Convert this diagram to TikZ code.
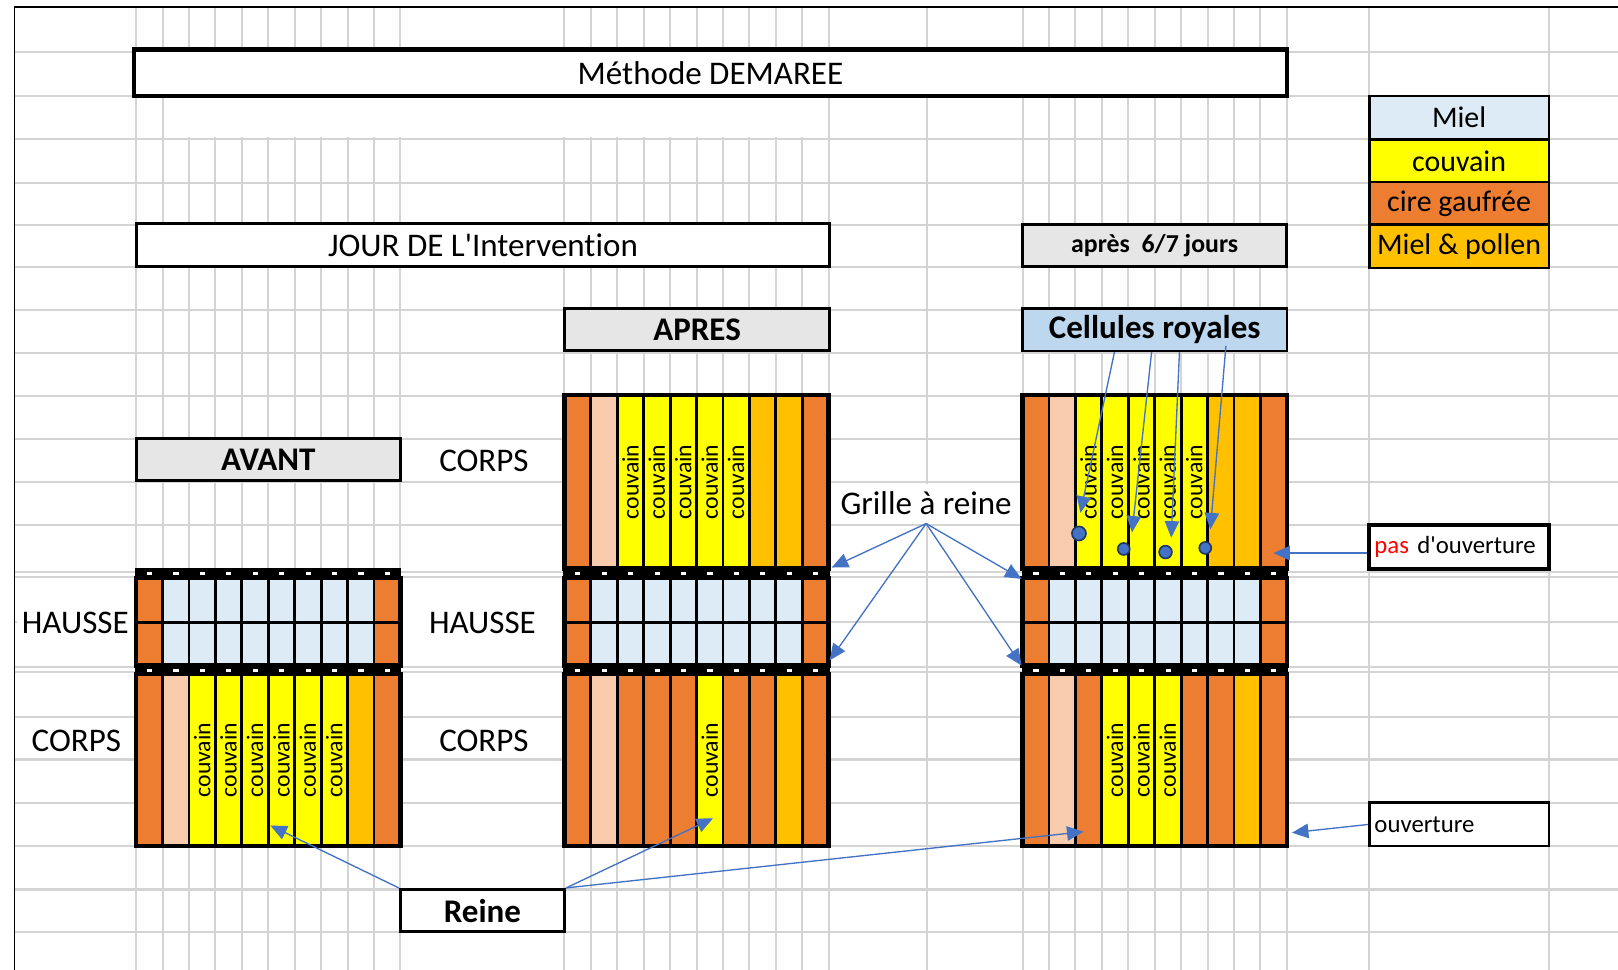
\documentclass[tikz,border=0pt]{standalone}
\usepackage{fontspec}
\setmainfont{Carlito}[Ligatures={NoCommon}]
\usetikzlibrary{arrows.meta}

\definecolor{cire}{HTML}{ED7D31}
\definecolor{peche}{HTML}{F8CBAD}
\definecolor{couv}{HTML}{FFFF00}
\definecolor{pollen}{HTML}{FFC000}
\definecolor{miel}{HTML}{DDEBF7}
\definecolor{gristitre}{HTML}{E7E6E6}
\definecolor{royal}{HTML}{BDD7EE}
\definecolor{bleu}{HTML}{4472C4}
\definecolor{marine}{HTML}{203864}
\definecolor{quad}{HTML}{D4D4D4}

\tikzset{
  quadrillage/.style={draw=quad, line width=1pt},
  ruche/.style={draw=black, line width=2.2pt},
  cadre/.style={draw=black, line width=1.4pt},
  fleche/.style={draw=bleu, line width=0.65pt, -{Triangle[length=8pt,width=7pt]}},
  txt/.style={font=\fontsize{16}{19}\selectfont},
  gras/.style={font=\bfseries\fontsize{16}{19}\selectfont},
  boite/.style={draw, line width=1.5pt, fill=white, inner sep=0pt, minimum height=20.5pt},
  legende/.style={draw, line width=1.2pt, inner sep=0pt, minimum width=87pt, minimum height=21pt, font=\fontsize{14.5}{17}\selectfont},
  vide/.style={fill=white, inner sep=0pt},
  couvain/.style={rotate=90, inner sep=0pt, font=\fontsize{11.5}{13}\selectfont}
}

\begin{document}
\begin{tikzpicture}[x=0.5pt, y=-0.5pt]
\useasboundingbox (0,0) rectangle (1568,940);

% quadrillage
\foreach \y in {50,93,135,177,218,259,300,342,384,425,467,509,554,559,603,646,651,695,736,778,820,862,903}
  \draw[quadrillage] (14,\y) -- (1568,\y);
\foreach \x in {132,157.6,183.2,208.8,234.4,260,285.6,311.2,336.8,362.4,388,
                547,572.6,598.2,623.8,649.4,675,700.6,726.2,751.8,777.4,803,898,
                991,1016.6,1042.2,1067.8,1093.4,1119,1144.6,1170.2,1195.8,1221.4,1247,1327,1501}
  \draw[quadrillage] (\x,7) -- (\x,940);
\fill[white] (159,95) rectangle (801.5,133);
\draw[line width=0.9pt] (14,940) -- (14,7) -- (1568,7);

% titres
\node[boite, line width=2pt, minimum width=558.5pt, minimum height=22.5pt, txt] (methode) at (688.5,70.5) {Méthode DEMAREE};
\node[boite, minimum width=336pt, txt] (jour) at (468,237.5) {JOUR DE L\textquotesingle Intervention};
\node[boite, fill=gristitre, minimum width=128pt, font=\bfseries\fontsize{12.5}{15}\selectfont] (apres67) at (1119,238) {après\ \ 6/7 jours};
\node[boite, fill=gristitre, minimum width=128.5pt, gras] (apres) at (675.5,319.5) {APRES};
\node[boite, fill=royal, line width=1.2pt, minimum width=128pt, font=\bfseries\fontsize{16}{19}\selectfont] (cellules) at (1119,319.5) {Cellules royales};
\node[boite, fill=gristitre, minimum width=128pt, gras] (avant) at (260,445.5) {AVANT};
\node[boite, minimum width=79.5pt, gras] (reine) at (467.5,882.5) {Reine};

% legende
\node[legende, fill=miel] (lmiel) at (1414,114) {Miel};
\node[legende, fill=couv] (lcouv) at (1414,156) {couvain};
\node[legende, fill=cire] (lcire) at (1414,197.5) {cire gaufrée};
\node[legende, fill=pollen] (lpollen) at (1414,238.5) {Miel \& pollen};

\node[boite, line width=2pt, minimum width=87pt, minimum height=21pt, text width=82pt, align=left, font=\fontsize{12}{14}\selectfont] (pasouv) at (1414,530) {\textcolor{red}{pas} d\textquotesingle ouverture};
\node[boite, line width=1.3pt, minimum width=87pt, minimum height=21pt, text width=82pt, align=left, font=\fontsize{12}{14}\selectfont] (ouv) at (1414,799) {ouverture};

% etiquettes
\node[vide, txt, minimum width=57pt, minimum height=41.5pt] (hg) at (73,603.5) {HAUSSE};
\node[vide, txt, minimum width=77.5pt, minimum height=41.5pt] (hm) at (467.5,603.5) {HAUSSE};
\node[txt] (cg) at (74,718) {CORPS};
\node[txt] (cm) at (469,447) {CORPS};
\node[txt] (cb) at (469,718) {CORPS};
\node[vide, minimum width=91.5pt, minimum height=19pt, font=\fontsize{16}{19}\selectfont] (grille) at (897.5,488) {Grille à reine};

% hausses
\foreach \xo in {132,547,991}{
  \fill[miel] (\xo,560) rectangle ++(256,85);
  \fill[cire] (\xo,560) rectangle ++(25.6,85);
  \fill[cire] (\xo+230.4,560) rectangle ++(25.6,85);
  \draw[cadre] (\xo,603) -- ++(256,0);
}
% corps
\foreach \c [count=\i from 0] in {cire,peche,couv,couv,couv,couv,couv,couv,pollen,cire}
  \fill[\c] (132+25.6*\i,653) rectangle ++(25.6,167);
\foreach \c [count=\i from 0] in {cire,peche,couv,couv,couv,couv,couv,pollen,pollen,cire}{
  \fill[\c] (547+25.6*\i,383) rectangle ++(25.6,168);
  \fill[\c] (991+25.6*\i,383) rectangle ++(25.6,168);
}
\foreach \c [count=\i from 0] in {cire,peche,cire,cire,cire,couv,cire,cire,pollen,cire}
  \fill[\c] (547+25.6*\i,653) rectangle ++(25.6,167);
\foreach \c [count=\i from 0] in {cire,peche,cire,couv,couv,couv,cire,cire,pollen,cire}
  \fill[\c] (991+25.6*\i,653) rectangle ++(25.6,167);

% cadres
\foreach \xo/\yo/\h in {132/560/85,132/653/167,547/383/168,547/560/85,547/653/167,991/383/168,991/560/85,991/653/167}{
  \foreach \i in {1,...,9}
    \draw[cadre] (\xo+25.6*\i,\yo) -- ++(0,\h);
  \draw[ruche] (\xo,\yo) rectangle ++(256,\h);
}
% grilles a reine
\foreach \xo in {132,547,991}
  \foreach \yo in {551,645}{
    \fill (\xo-1,\yo-1) rectangle ++(258,11);
    \foreach \i in {0,...,9}
      \fill[white] (\xo+25.6*\i+10.5,\yo+3) rectangle ++(5,3);
  }

\foreach \i in {2,...,7} \node[couvain] (cav\i) at (144.8+25.6*\i,736.5) {couvain};
\foreach \i in {2,...,6} \node[couvain] (cah\i) at (559.8+25.6*\i,467) {couvain};
\node[couvain] (cab5) at (687.8,736.5) {couvain};
\foreach \i in {2,...,6} \node[couvain] (cdh\i) at (1003.8+25.6*\i,467) {couvain};
\foreach \i in {3,...,5} \node[couvain] (cdb\i) at (1003.8+25.6*\i,736.5) {couvain};

% cellules royales
\foreach \x/\y/\r in {1045.6/517/3.4pt,1089/532/2.9pt,1129.5/535/3.1pt,1168/531/2.9pt}
  \filldraw[fill=bleu, draw=marine, line width=0.8pt] (\x,\y) circle[radius=\r];

% fleches
\coordinate (cr1) at (1047,497);
\coordinate (cr2) at (1097,516);
\coordinate (cr3) at (1135,521);
\coordinate (cr4) at (1173,513);
\draw[fleche] ([xshift=-19.5pt]cellules.south) -- (cr1);
\draw[fleche] ([xshift=-1.5pt]cellules.south) -- (cr2);
\draw[fleche] ([xshift=12pt]cellules.south) -- (cr3);
\draw[fleche] ([xshift=34.5pt,yshift=3pt]cellules.south) -- (cr4);

\coordinate (g1) at (806,550);
\coordinate (g2) at (804,640);
\coordinate (g3) at (990,561);
\coordinate (g4) at (990,645);
\foreach \c in {g1,g2,g3,g4} \draw[fleche] (grille.south) -- (\c);

\coordinate (rav) at (262,800);
\coordinate (rap) at (691,793);
\coordinate (rdr) at (1050,806);
\draw[fleche] (reine.north west) -- (rav);
\draw[fleche] (reine.north east) -- (rap);
\draw[fleche] (reine.north east) -- (rdr);

\coordinate (pasfin) at (1234,536);
\coordinate (ouvfin) at (1252,807);
\draw[fleche] ([yshift=-3pt]pasouv.west) -- (pasfin);
\draw[fleche] (ouv.west) -- (ouvfin);
\end{tikzpicture}
\end{document}
